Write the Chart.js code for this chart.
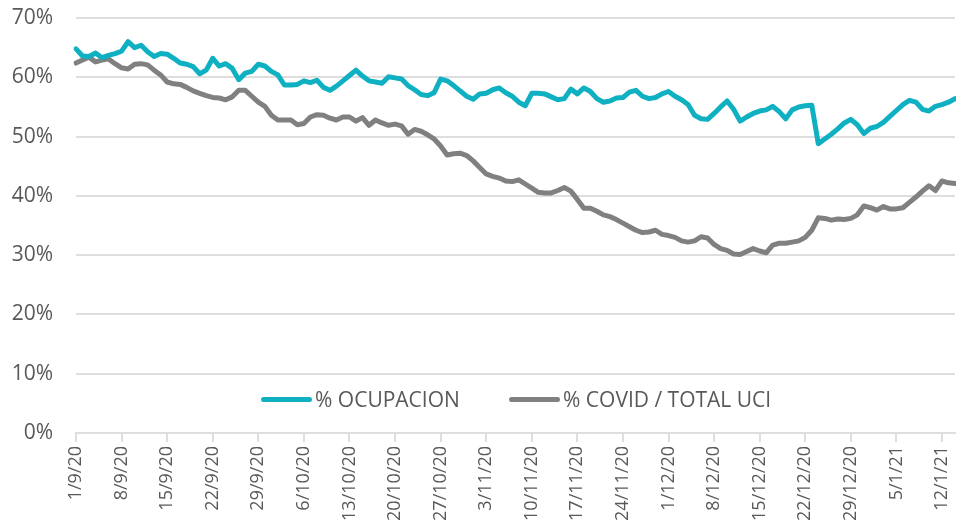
<!DOCTYPE html>
<html>
<head>
<meta charset="utf-8">
<script src="https://cdn.jsdelivr.net/npm/chart.js@4.4.0/dist/chart.umd.min.js"></script>
<style>
  html, body { margin: 0; padding: 0; background: #fff; }
  #wrap { position: relative; width: 956px; height: 530px; }
  .legend-item { position: absolute; top: 385px; display: flex; align-items: center;
    font-family: "Open Sans", sans-serif; font-size: 21px; color: #595959; white-space: nowrap; }
  .legend-item .swatch { display: inline-block; width: 51px; height: 5px; border-radius: 3px; margin-right: 3px; }
</style>
</head>
<body>
<div id="wrap">
  <canvas id="chart" width="956" height="530"></canvas>
  <div class="legend-item" style="left:261px"><span class="swatch" style="background:#0fb0c2"></span>% OCUPACION</div>
  <div class="legend-item" style="left:509px"><span class="swatch" style="background:#808080"></span>% COVID / TOTAL UCI</div>
</div>
<script>
// Daily values from 1/9/20 to 14/1/21
const startDate = Date.UTC(2020, 8, 1);
const dayCount = 136;

const ocupacion = [
  64.8, 63.6, 63.5, 64.1, 63.3, 63.7, 64.0, 64.4, 66.0, 65.0,
  65.4, 64.3, 63.5, 64.0, 63.9, 63.2, 62.4, 62.2, 61.8, 60.6,
  61.2, 63.2, 61.9, 62.3, 61.5, 59.6, 60.7, 61.0, 62.2, 61.9,
  61.0, 60.4, 58.7, 58.7, 58.8, 59.4, 59.1, 59.5, 58.3, 57.8,
  58.5, 59.4, 60.3, 61.2, 60.2, 59.4, 59.2, 59.0, 60.1, 59.9,
  59.7, 58.6, 57.9, 57.1, 56.9, 57.4, 59.7, 59.4, 58.6, 57.7,
  56.8, 56.3, 57.2, 57.3, 57.9, 58.2, 57.4, 56.8, 55.8, 55.2,
  57.3, 57.3, 57.2, 56.7, 56.2, 56.4, 58.0, 57.2, 58.2, 57.6,
  56.4, 55.8, 56.0, 56.5, 56.6, 57.5, 57.8, 56.8, 56.4, 56.6,
  57.2, 57.6, 56.8, 56.2, 55.4, 53.6, 53.0, 52.9, 53.9, 55.0,
  56.0, 54.6, 52.6, 53.3, 53.9, 54.3, 54.5, 55.1, 54.2, 53.0,
  54.5, 55.0, 55.2, 55.3, 48.8, 49.6, 50.4, 51.3, 52.3, 52.9,
  52.0, 50.5, 51.4, 51.7, 52.4, 53.4, 54.4, 55.4, 56.1, 55.8,
  54.6, 54.3, 55.1, 55.4, 55.8, 56.4
];

const covidUci = [
  62.4, 62.9, 63.4, 62.6, 62.9, 63.1, 62.3, 61.6, 61.4, 62.2,
  62.3, 62.1, 61.2, 60.4, 59.2, 58.9, 58.8, 58.3, 57.7, 57.3,
  56.9, 56.6, 56.5, 56.2, 56.7, 57.8, 57.8, 56.8, 55.8, 55.1,
  53.6, 52.8, 52.8, 52.8, 52.0, 52.2, 53.3, 53.7, 53.6, 53.1,
  52.8, 53.3, 53.3, 52.6, 53.2, 51.9, 52.8, 52.3, 51.9, 52.1,
  51.8, 50.4, 51.2, 50.9, 50.3, 49.6, 48.4, 46.9, 47.1, 47.2,
  46.8, 45.9, 44.8, 43.7, 43.3, 43.0, 42.5, 42.4, 42.7, 42.0,
  41.3, 40.6, 40.5, 40.5, 40.9, 41.4, 40.8, 39.4, 37.9, 37.9,
  37.4, 36.8, 36.5, 36.0, 35.4, 34.8, 34.2, 33.8, 33.9, 34.2,
  33.5, 33.3, 33.0, 32.4, 32.2, 32.4, 33.1, 32.9, 31.8, 31.1,
  30.8, 30.2, 30.1, 30.6, 31.1, 30.7, 30.4, 31.7, 32.0, 32.0,
  32.2, 32.4, 33.0, 34.2, 36.3, 36.2, 35.9, 36.1, 36.0, 36.2,
  36.8, 38.3, 38.0, 37.6, 38.2, 37.8, 37.8, 38.0, 38.9, 39.8,
  40.8, 41.7, 40.9, 42.5, 42.2, 42.1
];

// category labels d/m/yy, one per day
const days = [];
for (let i = 0; i < dayCount; i++) {
  const d = new Date(startDate + i * 86400000);
  days.push(d.getUTCDate() + '/' + (d.getUTCMonth() + 1) + '/' + String(d.getUTCFullYear()).slice(2));
}

const yTicks = [0, 10, 20, 30, 40, 50, 60, 70];
const labelEvery = 7;

const textColor = '#595959';
const gridColor = '#dedede';

new Chart(document.getElementById('chart'), {
  type: 'line',
  data: {
    labels: days,
    datasets: [
      {
        label: '% OCUPACION',
        data: ocupacion,
        borderColor: '#0fb0c2',
        borderWidth: 5,
        pointRadius: 0,
        tension: 0,
        borderJoinStyle: 'round',
        borderCapStyle: 'round'
      },
      {
        label: '% COVID / TOTAL UCI',
        data: covidUci,
        borderColor: '#808080',
        borderWidth: 5,
        pointRadius: 0,
        tension: 0,
        borderJoinStyle: 'round',
        borderCapStyle: 'round'
      }
    ]
  },
  options: {
    responsive: false,
    animation: false,
    layout: { padding: { top: 18, right: 1, bottom: 0, left: 0 } },
    plugins: {
      legend: { display: false },
      tooltip: { enabled: false }
    },
    scales: {
      x: {
        offset: false,
        border: { display: true, color: gridColor, width: 2 },
        grid: {
          drawOnChartArea: false,
          drawTicks: true,
          tickLength: 9,
          lineWidth: 2,
          color: (ctx) => (ctx.index % labelEvery === 0 ? gridColor : 'rgba(0,0,0,0)')
        },
        ticks: {
          autoSkip: false,
          minRotation: 90,
          maxRotation: 90,
          padding: 4,
          color: textColor,
          font: { family: '"Open Sans", sans-serif', size: 18 },
          callback: function (value, index) {
            return index % labelEvery === 0 ? this.getLabelForValue(value) : '';
          }
        },
        afterFit: (scale) => {
          scale.height = 97;
          scale.paddingLeft = 0;
          scale.paddingRight = 0;
        }
      },
      y: {
        min: yTicks[0],
        max: yTicks[yTicks.length - 1],
        border: { display: false },
        grid: { color: gridColor, lineWidth: 2, drawTicks: false },
        ticks: {
          stepSize: 10,
          padding: 23,
          color: textColor,
          font: { family: '"Open Sans", sans-serif', size: 21 },
          callback: (v) => v + '%'
        },
        afterFit: (scale) => {
          scale.width = 76;
          scale.paddingTop = 0;
          scale.paddingBottom = 0;
        }
      }
    }
  }
});
</script>
</body>
</html>
